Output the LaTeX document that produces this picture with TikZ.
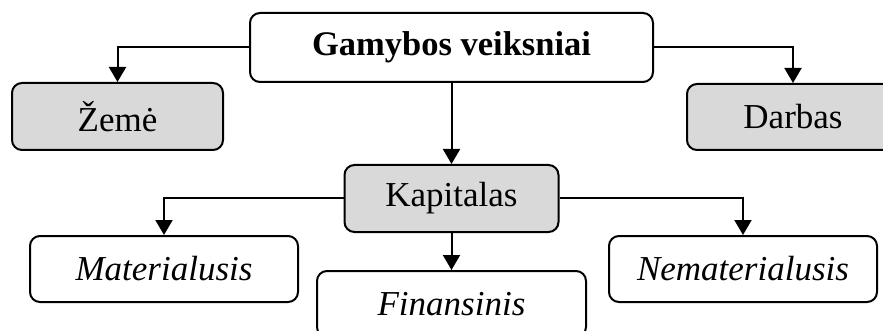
\documentclass[tikz,border=0pt]{standalone}
\usepackage{fontspec}
\setmainfont{Liberation Serif}
\usetikzlibrary{arrows.meta}
\definecolor{boxgray}{HTML}{D9D9D9}
\tikzset{
  box/.style={draw=black, line width=2pt, rounded corners=10pt, fill=white,
    inner sep=0pt, font=\fontsize{35}{42}\selectfont},
  greybox/.style={box, fill=boxgray},
  link/.style={line width=2pt, -{Triangle[width=17pt,length=15pt]}}
}
\begin{document}
\begin{tikzpicture}[x=1pt,y=-1pt]
  \useasboundingbox (0,0) rectangle (883,331);
  \clip (0,0) rectangle (883,331);
  % top level
  \node[box, minimum width=403pt, minimum height=69pt, font=\fontsize{34.5}{42}\selectfont\bfseries] (g) at (451.5,47.5) {Gamybos veiksniai};
  % production factors
  \node[greybox, minimum width=211pt, minimum height=67pt] (z) at (117.5,116.5) {Žemė};
  \node[greybox, minimum width=212pt, minimum height=66pt] (d) at (793,117) {Darbas};
  \node[greybox, minimum width=214pt, minimum height=67pt] (k) at (451.5,198.5) {Kapitalas};
  % kinds of capital
  \node[box, minimum width=268pt, minimum height=66pt] (m) at (164,269) {\textit{Materialusis}};
  \node[box, minimum width=268pt, minimum height=66pt] (n) at (743,269) {\textit{Nematerialusis}};
  \node[box, minimum width=269pt, minimum height=66pt] (f) at (451.5,304) {\textit{Finansinis}};
  % connectors
  \draw[link] (g.west) -| (z.north);
  \draw[link] (g.east) -| (d.north);
  \draw[link] (g.south) -- (k.north);
  \draw[link] (k.west) -| (m.north);
  \draw[link] (k.east) -| (n.north);
  \draw[link] (k.south) -- (f.north);
\end{tikzpicture}
\end{document}
